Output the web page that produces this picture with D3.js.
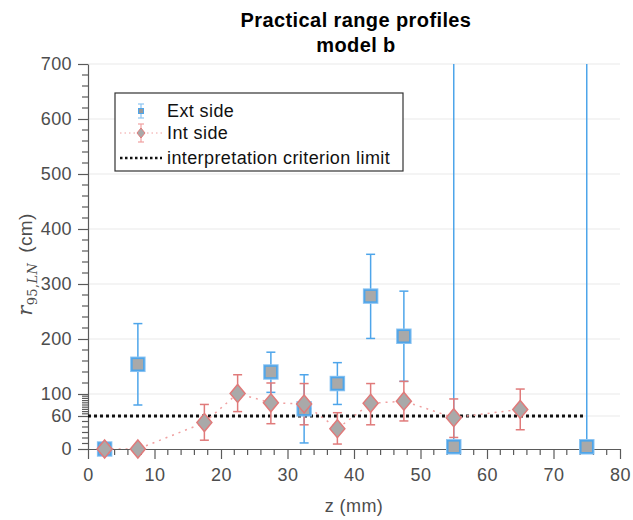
<!DOCTYPE html>
<meta charset="utf-8">
<script src="https://d3js.org/d3.v7.min.js"></script>
<style>
  body { margin: 0; background: #fff; }
  text { font-family: "Liberation Sans", Arial, Helvetica, sans-serif; letter-spacing: 0.4px; }
</style>
<div id="my_dataviz"></div>
<script>
  // data
  var zExt = [2.5, 7.5, 27.5, 32.5, 37.5, 42.5, 47.5, 55, 75];
  var rExt = [0, 154, 140, 73, 119, 278, 205, 4, 4];
  var lowExt = [0, 80, 103, 11, 81, 201, 123, -900, -900];
  var highExt = [0, 228, 176, 135, 157, 354, 287, 900, 900];

  var zInt = [2.5, 7.5, 17.5, 22.5, 27.5, 32.5, 37.5, 42.5, 47.5, 55, 65];
  var rInt = [0, 0, 48, 101, 84, 82, 37, 83, 87, 57, 72];
  var lowInt = [0, 0, 16, 68, 46, 44, 9, 44, 51, 21, 35];
  var highInt = [0, 0, 81, 135, 120, 119, 66, 119, 123, 91, 109];

  var criterion = 60;
  var criterionRange = [0, 75];

  var xTicks = [0, 10, 20, 30, 40, 50, 60, 70, 80];
  var yTicks = [0, 60, 100, 200, 300, 400, 500, 600, 700];

  var extSide = zExt.map(function (z, i) { return { z: z, r: rExt[i], lo: lowExt[i], hi: highExt[i] }; });
  var intSide = zInt.map(function (z, i) { return { z: z, r: rInt[i], lo: lowInt[i], hi: highInt[i] }; });

  var margin = { top: 64, right: 13, bottom: 71, left: 88 },
    width = 633 - margin.left - margin.right,
    height = 520 - margin.top - margin.bottom;

  var blue = "#4ea5ea", blueLight = "#8cc4f2";
  var red = "#e07a7a", redLight = "#f0a0a0";
  var axisCol = "#5a5a5a";

  var svgRoot = d3.select("#my_dataviz").append("svg")
    .attr("width", 633).attr("height", 520);
  var svg = svgRoot.append("g")
    .attr("transform", "translate(" + margin.left + "," + margin.top + ")");

  var x = d3.scaleLinear().domain([0, 80]).range([0, width]);
  var y = d3.scaleLinear().domain([0, 700]).range([height, 0]);

  svg.append("defs").append("clipPath").attr("id", "clip")
    .append("rect").attr("width", width).attr("height", height);

  // grid lines
  svg.append("g")
    .selectAll("line").data(yTicks.filter(function (d) { return d > 0; })).enter()
    .append("line")
    .attr("x1", 0).attr("x2", width)
    .attr("y1", function (d) { return y(d); }).attr("y2", function (d) { return y(d); })
    .attr("stroke", "#e9e9e9").attr("stroke-width", 1);

  // minor ticks
  var yMinor = d3.range(10, 60, 10).concat(d3.range(64, 100, 4)).concat(d3.range(120, 700, 20).filter(function (d) { return d % 100 != 0; }));
  var xMinor = d3.range(2, 80, 2).filter(function (d) { return d % 10 != 0; });

  // x axis
  var xAxis = svg.append("g")
    .attr("transform", "translate(0," + height + ")")
    .call(d3.axisBottom(x).tickValues(xTicks).tickSize(10).tickPadding(9).tickSizeOuter(0));
  xAxis.append("g").selectAll("line").data(xMinor).enter().append("line")
    .attr("x1", function (d) { return x(d); }).attr("x2", function (d) { return x(d); })
    .attr("y1", 0).attr("y2", 6).attr("stroke", axisCol);

  // y axis
  var yAxis = svg.append("g")
    .call(d3.axisLeft(y).tickValues(yTicks).tickSize(10).tickPadding(6).tickSizeOuter(0));
  yAxis.append("g").selectAll("line").data(yMinor).enter().append("line")
    .attr("y1", function (d) { return y(d); }).attr("y2", function (d) { return y(d); })
    .attr("x1", 0).attr("x2", -6).attr("stroke", axisCol);

  [xAxis, yAxis].forEach(function (a) {
    a.selectAll("path, line").attr("stroke", axisCol).attr("stroke-width", 1.2);
    a.selectAll("text").attr("fill", "#4d4d4d").style("font-size", "18px")
      .style("font-family", "'Liberation Sans', Arial, sans-serif");
  });

  var plot = svg.append("g").attr("clip-path", "url(#clip)");

  // criterion line
  plot.append("line")
    .attr("x1", x(criterionRange[0])).attr("x2", x(criterionRange[1]))
    .attr("y1", y(criterion)).attr("y2", y(criterion))
    .attr("stroke", "#111").attr("stroke-width", 3).attr("stroke-dasharray", "3,3");

  function errorBars(g, data, col, cap) {
    var eb = g.selectAll(null).data(data.filter(function (d) { return d.hi > d.lo; })).enter().append("g");
    eb.append("line")
      .attr("x1", function (d) { return x(d.z); }).attr("x2", function (d) { return x(d.z); })
      .attr("y1", function (d) { return y(d.lo); }).attr("y2", function (d) { return y(d.hi); })
      .attr("stroke", col).attr("stroke-width", 1.5);
    ["lo", "hi"].forEach(function (k) {
      eb.append("line")
        .attr("x1", function (d) { return x(d.z) - cap; }).attr("x2", function (d) { return x(d.z) + cap; })
        .attr("y1", function (d) { return y(d[k]); }).attr("y2", function (d) { return y(d[k]); })
        .attr("stroke", col).attr("stroke-width", 1.5);
    });
  }

  // Ext side error bars + squares
  errorBars(plot, extSide, blue, 4.5);
  svg.selectAll("extHalo").data(extSide).enter().append("rect")
    .attr("x", function (d) { return x(d.z) - 7; })
    .attr("y", function (d) { return y(d.r) - 7; })
    .attr("width", 14).attr("height", 14)
    .attr("fill", "none").attr("stroke", blueLight).attr("stroke-width", 1.5);
  svg.selectAll("extSq").data(extSide).enter().append("rect")
    .attr("x", function (d) { return x(d.z) - 6; })
    .attr("y", function (d) { return y(d.r) - 6; })
    .attr("width", 12).attr("height", 12)
    .attr("fill", "#a9a9a9").attr("stroke", blue).attr("stroke-width", 1.6);

  // Int side line + error bars + diamonds
  plot.append("path").datum(intSide)
    .attr("d", d3.line().x(function (d) { return x(d.z); }).y(function (d) { return y(d.r); }))
    .attr("fill", "none").attr("stroke", redLight).attr("stroke-width", 1.5)
    .attr("stroke-dasharray", "2,5");
  errorBars(plot, intSide, red, 4.5);
  var diamond = "M0,-9L7.5,0L0,9L-7.5,0Z";
  svg.selectAll("intDm").data(intSide).enter().append("path")
    .attr("d", diamond)
    .attr("transform", function (d) { return "translate(" + x(d.z) + "," + y(d.r) + ")"; })
    .attr("fill", "#a9a9a9").attr("stroke", red).attr("stroke-width", 1.5);

  // titles
  svgRoot.append("text").attr("x", margin.left + width / 2 + 2).attr("y", 27)
    .attr("text-anchor", "middle").style("font-size", "20px").style("font-weight", "bold")
    .text("Practical range profiles");
  svgRoot.append("text").attr("x", margin.left + width / 2 + 2).attr("y", 52)
    .attr("text-anchor", "middle").style("font-size", "20px").style("font-weight", "bold")
    .text("model b");

  svgRoot.append("text").attr("x", margin.left + width / 2).attr("y", 512)
    .attr("text-anchor", "middle").style("font-size", "18px").attr("fill", "#4d4d4d")
    .text("z (mm)");

  var yl = svgRoot.append("text")
    .attr("transform", "translate(32," + (margin.top + height / 2 + 8) + ") rotate(-90)")
    .attr("text-anchor", "middle").attr("fill", "#4d4d4d").style("font-size", "19px");
  yl.append("tspan").style("font-family", "'DejaVu Serif', 'Liberation Serif', serif").style("font-style", "italic").style("font-size", "21px").text("r");
  yl.append("tspan").attr("dy", 5).style("font-family", "'DejaVu Serif', 'Liberation Serif', serif").style("font-size", "13px").text("95,");
  yl.append("tspan").style("font-family", "'DejaVu Serif', 'Liberation Serif', serif").style("font-style", "italic").style("font-size", "13px").text("LN");
  yl.append("tspan").attr("dy", -5).text("\u2002(cm)");

  // legend
  var lg = svgRoot.append("g").attr("transform", "translate(115,93)");
  lg.append("rect").attr("width", 288).attr("height", 78)
    .attr("fill", "#fff").attr("stroke", "#333").attr("stroke-width", 1.2);
  var lx = 26, ly = [18, 40, 65];
  // Ext
  lg.append("line").attr("x1", lx).attr("x2", lx).attr("y1", ly[0] - 7).attr("y2", ly[0] + 7).attr("stroke", blueLight).attr("stroke-width", 1.2);
  [ly[0] - 7, ly[0] + 7].forEach(function (yy) {
    lg.append("line").attr("x1", lx - 3).attr("x2", lx + 3).attr("y1", yy).attr("y2", yy).attr("stroke", blueLight).attr("stroke-width", 1.2);
  });
  lg.append("rect").attr("x", lx - 2.5).attr("y", ly[0] - 2.5).attr("width", 5).attr("height", 5)
    .attr("fill", "#999").attr("stroke", blue).attr("stroke-width", 1);
  // Int
  lg.append("line").attr("x1", 5).attr("x2", 47).attr("y1", ly[1]).attr("y2", ly[1])
    .attr("stroke", redLight).attr("stroke-width", 1).attr("stroke-dasharray", "1.5,3");
  lg.append("line").attr("x1", lx).attr("x2", lx).attr("y1", ly[1] - 9).attr("y2", ly[1] + 9).attr("stroke", redLight).attr("stroke-width", 1.2);
  [ly[1] - 9, ly[1] + 9].forEach(function (yy) {
    lg.append("line").attr("x1", lx - 3).attr("x2", lx + 3).attr("y1", yy).attr("y2", yy).attr("stroke", redLight).attr("stroke-width", 1.2);
  });
  lg.append("path").attr("d", "M0,-5L4,0L0,5L-4,0Z").attr("transform", "translate(" + lx + "," + ly[1] + ")")
    .attr("fill", "#a9a9a9").attr("stroke", red).attr("stroke-width", 1);
  // criterion
  lg.append("line").attr("x1", 5).attr("x2", 47).attr("y1", ly[2]).attr("y2", ly[2])
    .attr("stroke", "#111").attr("stroke-width", 2.5).attr("stroke-dasharray", "2.5,2.5");

  var labels = ["Ext side", "Int side", "interpretation criterion limit"];
  lg.selectAll("lt").data(labels).enter().append("text")
    .attr("x", 52).attr("y", function (d, i) { return ly[i] + 6; })
    .style("font-size", "18px").attr("fill", "#111")
    .text(function (d) { return d; });
</script>
